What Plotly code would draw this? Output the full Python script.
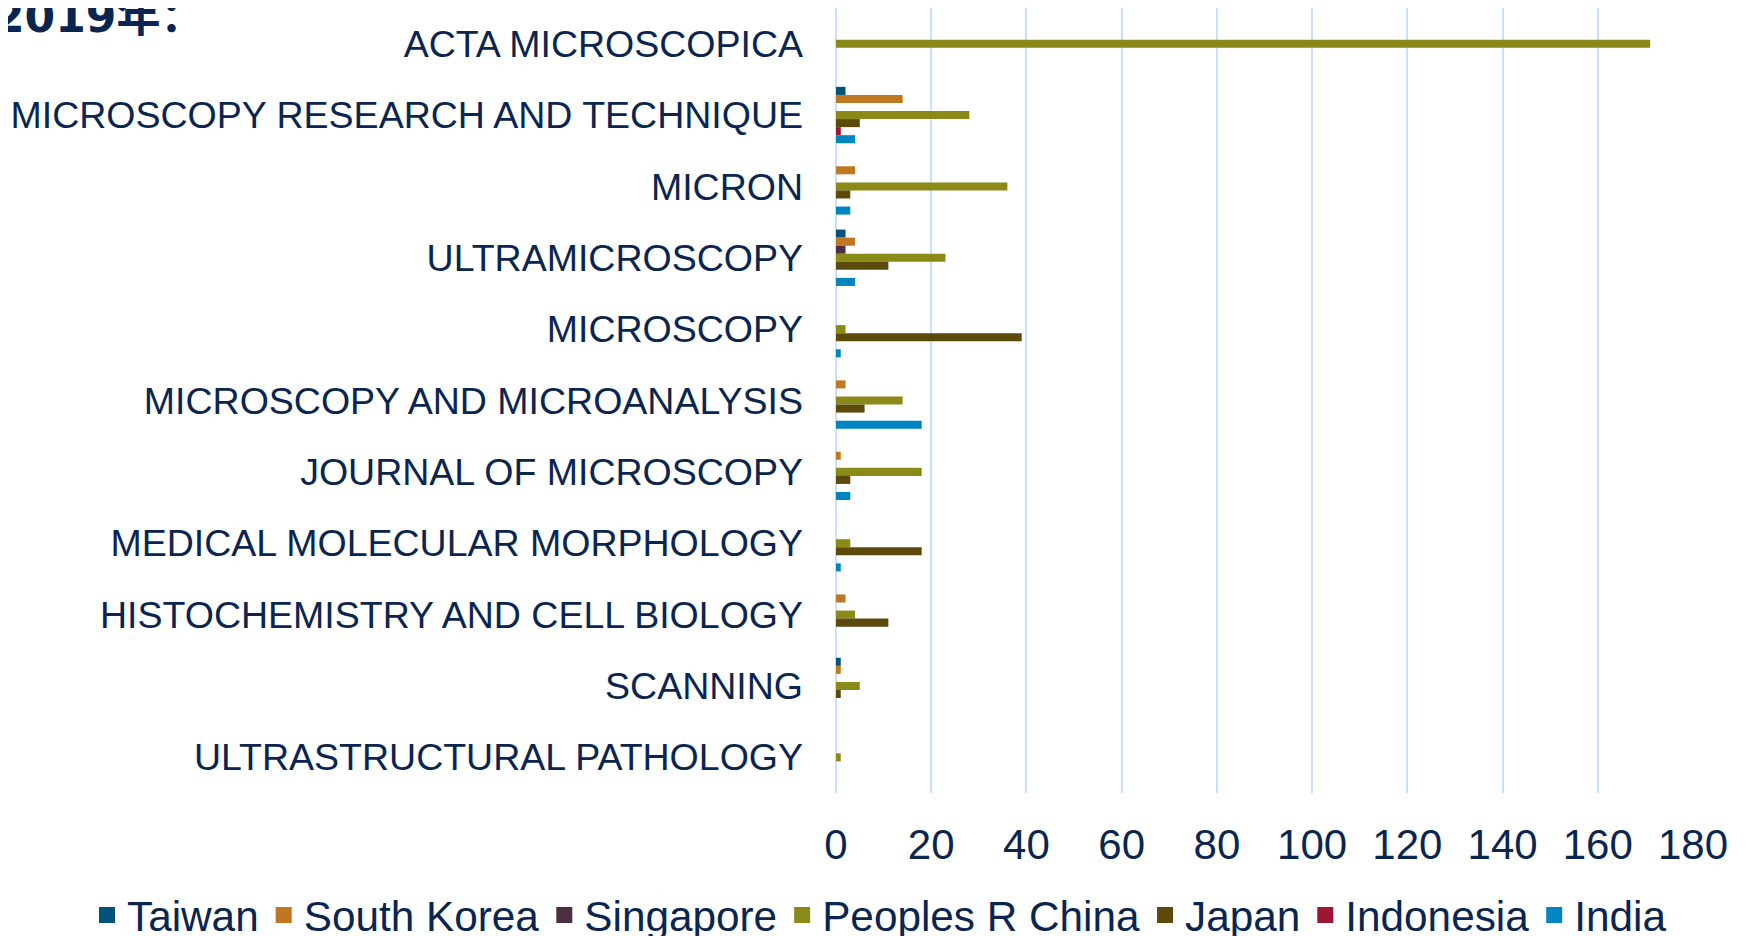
import plotly.graph_objects as go

categories = ["ACTA MICROSCOPICA", "MICROSCOPY RESEARCH AND TECHNIQUE", "MICRON",
              "ULTRAMICROSCOPY", "MICROSCOPY", "MICROSCOPY AND MICROANALYSIS",
              "JOURNAL OF MICROSCOPY", "MEDICAL MOLECULAR MORPHOLOGY",
              "HISTOCHEMISTRY AND CELL BIOLOGY", "SCANNING", "ULTRASTRUCTURAL PATHOLOGY"]

taiwan      = [0, 2, 0, 2, 0, 0, 0, 0, 0, 1, 0]
south_korea = [0, 14, 4, 4, 0, 2, 1, 0, 2, 1, 0]
singapore   = [0, 0, 0, 2, 0, 0, 0, 0, 0, 0, 0]
china       = [171, 28, 36, 23, 2, 14, 18, 3, 4, 5, 1]
japan       = [0, 5, 3, 11, 39, 6, 3, 18, 11, 1, 0]
indonesia   = [0, 1, 0, 0, 0, 0, 0, 0, 0, 0, 0]
india       = [0, 4, 3, 4, 1, 18, 3, 1, 0, 0, 0]

series_names = ["Taiwan", "South Korea", "Singapore", "Peoples R China", "Japan", "Indonesia", "India"]
series_values = [taiwan, south_korea, singapore, china, japan, indonesia, india]
series_colors = ["#00527A", "#BF7722", "#4A3042", "#8A8A19", "#5C4A0B", "#9E1631", "#0085C3"]

x_ticks = [0, 20, 40, 60, 80, 100, 120, 140, 160, 180]

TEXT = "#0A2550"
FONT = "Liberation Sans, Arial, Noto Sans CJK SC, sans-serif"

fig = go.Figure()
for name, vals, col in zip(series_names, series_values, series_colors):
    fig.add_trace(go.Bar(
        y=categories, x=vals, name=name, orientation="h", showlegend=False,
        marker=dict(color=col, line=dict(width=0)),
    ))
# legend entries (square swatches)
for name, col in zip(series_names, series_colors):
    fig.add_trace(go.Scatter(
        x=[None], y=[None], mode="markers", name=name,
        marker=dict(symbol="square", size=19, color=col),
    ))

# page has an 8px body margin, positions are compensated for it
L, R, T, B = 828, 61, 0, 151
W, H = 1746, 936
pw, ph = W - L - R, H - T - B

fig.update_layout(
    width=W, height=H,
    margin=dict(l=L, r=R, t=T, b=B, autoexpand=False),
    paper_bgcolor="white", plot_bgcolor="white",
    barmode="group", bargap=0.21, bargroupgap=0,
    font=dict(family=FONT, color=TEXT),
    showlegend=True,
    legend=dict(
        orientation="h", xref="paper", yref="paper",
        x=(79 - L) / pw, xanchor="left", y=(ph - 873) / ph, yanchor="top",
        font=dict(size=42.3, color=TEXT, family=FONT),
        traceorder="normal", itemwidth=30,
    ),
    xaxis=dict(
        range=[0, 180], tickvals=x_ticks, ticktext=[str(t) for t in x_ticks],
        showgrid=True, gridcolor="#C9DFFF", gridwidth=2,
        zeroline=True, zerolinecolor="#C9DFFF", zerolinewidth=2,
        showline=False, ticks="",
        tickfont=dict(size=42, color=TEXT, family=FONT),
        ticklabelstandoff=23,
    ),
    yaxis=dict(
        autorange="reversed", showgrid=False, showline=False, ticks="",
        tickfont=dict(size=37.5, color=TEXT, family=FONT),
        ticklabelstandoff=32,
    ),
    annotations=[dict(
        text="<b>2019年<span style='font-family:Noto Sans CJK SC'>：</span></b>",
        xref="paper", yref="paper", x=0, y=1,
        xanchor="left", yanchor="middle", xshift=-L - 16, yshift=-5,
        showarrow=False,
        font=dict(size=44, color=TEXT, family="DejaVu Sans, Noto Sans CJK SC, sans-serif"),
    )],
)

fig.write_html("out.html")
